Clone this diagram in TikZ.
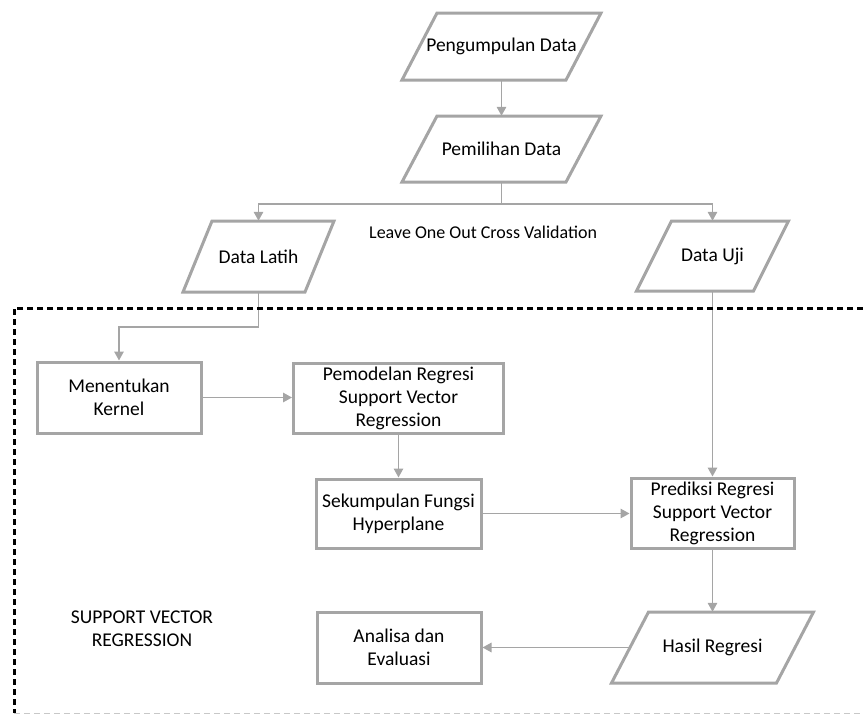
\documentclass[tikz,border=0pt]{standalone}
\usepackage{fontspec}
\setmainfont{Carlito}
\usetikzlibrary{arrows.meta,calc}
\definecolor{boxgray}{RGB}{165,165,165}
\definecolor{lightdash}{RGB}{200,200,200}
\newcommand\mainfnt{\fontsize{19.5}{23}\selectfont}
\tikzset{
  procbox/.style={draw=boxgray, line width=3pt, align=center, font=\mainfnt, inner sep=0pt, fill=white},
  paratext/.style={align=center, font=\mainfnt, inner sep=0pt},
  parashape/.style={draw=boxgray, line width=3pt, line join=miter},
  conn/.style={draw=boxgray, line width=1.5pt, -{Triangle[length=9pt,width=9.5pt]}},
  plainline/.style={draw=boxgray, line width=1.5pt},
}
\newcommand\mkpara[7]{%
  \draw[parashape] (#2-#4/2-#6/2,#3+#5/2) -- (#2+#4/2-#6/2,#3+#5/2) -- (#2+#4/2+#6/2,#3-#5/2) -- (#2-#4/2+#6/2,#3-#5/2) -- cycle;
  \node[paratext, minimum width=#4pt, minimum height=#5pt] (#1) at (#2,#3) {#7};
}
\begin{document}
\begin{tikzpicture}[x=1pt,y=-1pt]
\useasboundingbox (0,0) rectangle (863,716);

% parallelograms
\mkpara{peng}{501.5}{46.5}{164}{67}{35}{Pengumpulan Data}
\mkpara{pemil}{501.5}{149}{164}{66}{35}{Pemilihan Data}
\mkpara{latih}{258.5}{256.5}{122}{71}{29}{Data Latih}
\mkpara{uji}{712.5}{256}{117}{70}{35}{Data Uji}
\mkpara{hasil}{712.5}{647.5}{165}{71}{37}{Hasil Regresi}

% rectangles
\node[procbox, minimum width=164pt, minimum height=71pt] (kernel) at (119,397.5) {Menentukan\\Kernel};
\node[procbox, minimum width=210pt, minimum height=70pt] (model) at (398.5,398) {Pemodelan Regresi\\Support Vector\\Regression};
\node[procbox, minimum width=165pt, minimum height=69pt] (hyper) at (398.5,513.5) {Sekumpulan Fungsi\\Hyperplane};
\node[procbox, minimum width=163pt, minimum height=70pt] (pred) at (712.5,513) {Prediksi Regresi\\Support Vector\\Regression};
\node[procbox, minimum width=164pt, minimum height=71pt] (eval) at (399,647.5) {Analisa dan\\Evaluasi};

% labels
\node[anchor=west, font=\fontsize{18}{21}\selectfont, inner sep=0pt] (loocv) at (369,232) {Leave One Out Cross Validation};
\node[align=center, font=\mainfnt, inner sep=0pt] (svrlabel) at (142,629) {SUPPORT VECTOR\\REGRESSION};

% connectors
\coordinate (split) at (501.5,204);
\draw[conn] (peng.south) -- (pemil.south |- pemil.north);
\draw[plainline] (pemil.south) -- (split);
\draw[conn] (split) -| (latih.north);
\draw[conn] (split) -| (uji.north);
\draw[conn] (latih.south) -- ++(0,35) -| (kernel.north);
\draw[conn] (kernel.east) -- (kernel.east -| model.west);
\draw[conn] (model.south) -- (model.south |- hyper.north);
\draw[conn] (hyper.east) -- (hyper.east -| pred.west);
\draw[conn] (uji.south) -- (uji.south |- pred.north);
\draw[conn] (pred.south) -- (pred.south |- hasil.north);
\draw[conn] (hasil.west) -- (hasil.west -| eval.east);

% dashed frame
\draw[black, line width=3pt, dash pattern=on 6pt off 4pt] (863,308) -- (14,308) -- (14,713);
\draw[lightdash, line width=1pt, dash pattern=on 6pt off 4pt] (14,713) -- (863,713);
\end{tikzpicture}
\end{document}
